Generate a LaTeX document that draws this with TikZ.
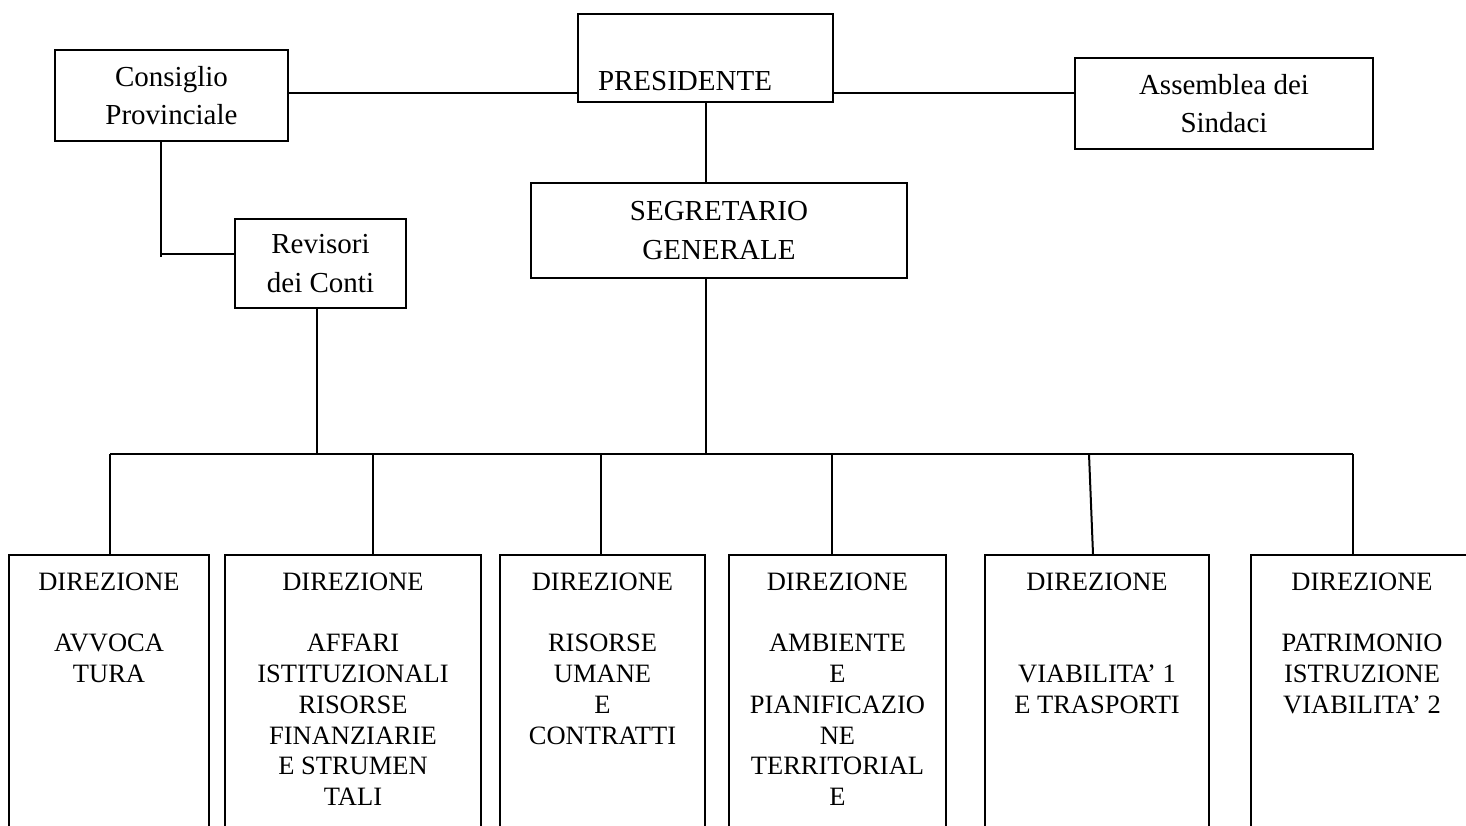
\documentclass[tikz,border=0pt]{standalone}
\usepackage{fontspec}
\setmainfont{Liberation Serif}
\begin{document}
\begin{tikzpicture}[x=1pt, y=-1pt,
    topbox/.style={draw, line width=2.2pt, align=center, inner sep=0pt,
      font=\fontsize{29}{38.7}\selectfont},
    dirbox/.style={draw, line width=2.2pt, align=center, anchor=north,
      inner xsep=2pt, inner ysep=17.5pt, text depth=330pt,
      font=\fontsize{26.5}{30.8}\selectfont},
    link/.style={line width=2pt}]
  \useasboundingbox (0,0) rectangle (1466,825);
  \clip (0,0) rectangle (1466,825);

  % top level
  \node[topbox, minimum width=233pt, minimum height=91pt] (cons) at (171.5,95.5) {Consiglio\\Provinciale};
  \node[topbox, minimum width=255pt, minimum height=88pt, text width=215pt, align=left,
    inner xsep=20pt, text height=76pt, text depth=12pt] (pres) at (705.5,58) {PRESIDENTE};
  \node[topbox, minimum width=298pt, minimum height=91pt] (asse) at (1224,103.5) {Assemblea dei\\Sindaci};
  \node[topbox, minimum width=376pt, minimum height=95pt] (segr) at (719,230.5) {SEGRETARIO\\GENERALE};
  \node[topbox, minimum width=171pt, minimum height=89pt] (revi) at (320.5,263.5) {Revisori\\dei Conti};

  % direzioni
  \node[dirbox, minimum width=200pt] (d1) at (109,554) {DIREZIONE\\[30.8pt]AVVOCA\\TURA};
  \node[dirbox, minimum width=256pt] (d2) at (353,554) {DIREZIONE\\[30.8pt]AFFARI\\ISTITUZIONALI\\RISORSE\\FINANZIARIE\\E STRUMEN\\TALI};
  \node[dirbox, minimum width=205pt] (d3) at (602.5,554) {DIREZIONE\\[30.8pt]RISORSE\\UMANE\\E\\CONTRATTI};
  \node[dirbox, minimum width=217pt] (d4) at (837.5,554) {DIREZIONE\\[30.8pt]AMBIENTE\\E\\PIANIFICAZIO\\NE\\TERRITORIAL\\E};
  \node[dirbox, minimum width=224pt] (d5) at (1097,554) {DIREZIONE\\[61.6pt]VIABILITA’ 1\\E TRASPORTI};
  \node[dirbox, minimum width=222pt] (d6) at (1362,554) {DIREZIONE\\[30.8pt]PATRIMONIO\\ISTRUZIONE\\VIABILITA’ 2};

  % connectors
  \coordinate (lvl) at (0,93);
  \coordinate (bus) at (0,454);
  \coordinate (cstem) at (161,254);
  \coordinate (rdrop) at ([xshift=-3.5pt]revi.south);
  \draw[link] (cons.east |- lvl) -- (pres.west |- lvl);
  \draw[link] (pres.east |- lvl) -- (asse.west |- lvl);
  \draw[link] (pres.south) -- (segr.north -| pres.south);
  \draw[link] (cons.south -| cstem) -- ([yshift=-3pt]cstem);
  \draw[link] (cstem) -- (revi.west |- cstem);
  \draw[link] (rdrop) -- (rdrop |- bus);
  \draw[link] (segr.south -| pres.south) -- (pres.south |- bus);
  \draw[link] (bus -| 110,0) -- (bus -| 1353,0);
  \foreach \n/\x in {1/110,2/373,3/601,4/832,6/1353}
    \draw[link] (\x,454) -- (d\n.north -| \x,0);
  \draw[link] (1089,454) -- (d5.north -| 1093,0);
\end{tikzpicture}
\end{document}
